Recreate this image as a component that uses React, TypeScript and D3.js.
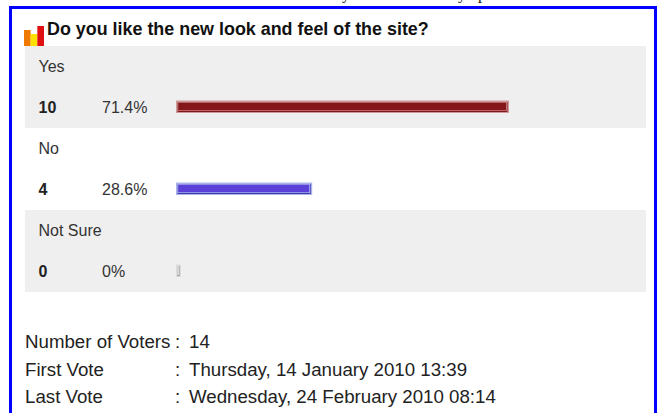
import { useEffect, useRef } from 'react';
import { scaleLinear, scaleBand, select } from 'd3';

const question = 'Do you like the new look and feel of the site?';
const answers = ['Yes', 'No', 'Not Sure'];
const votes = [10, 4, 0];
const percents = ['71.4%', '28.6%', '0%'];
const barEdges = ['#cf9a9b', '#a9b3ea', '#dcdcdc'];
const barFrames = ['#85171a', '#3a3fb0', '#8f8f8f'];
const barFills = ['#85171a', '#5a3fd8', '#ececec'];
const barHighlights = ['#c98a8c', '#b0b4ea', '#ececec'];
const infoLabels = ['Number of Voters', 'First Vote', 'Last Vote'];
const infoValues = ['14', 'Thursday, 14 January 2010 13:39', 'Wednesday, 24 February 2010 08:14'];
const iconHeights = [16, 12, 20];
const iconColors = ['#f07a00', '#ffe000', '#e01010'];
// bits of a line of text cut off by the top of the picture
const cutOffLetters = ['y', 'y', 'p'];
const cutOffX = [342, 458, 478];

const width = 659;
const height = 413;
const font = 'Arial, "Liberation Sans", sans-serif';

const App = () => {
  const ref = useRef<SVGSVGElement>(null);

  useEffect(() => {
    const svg = select(ref.current);
    svg.selectAll('*').remove();

    svg
      .selectAll('.cut')
      .data(cutOffLetters)
      .join('text')
      .attr('class', 'cut')
      .attr('x', (_, i) => cutOffX[i])
      .attr('y', -1)
      .attr('font-family', '"Liberation Serif", serif')
      .attr('font-size', 16)
      .attr('fill', '#111')
      .text((d) => d);

    // outer box
    svg
      .append('rect')
      .attr('x', 10.5)
      .attr('y', 7.5)
      .attr('width', 645)
      .attr('height', 420)
      .attr('fill', 'white')
      .attr('stroke', '#0000ff')
      .attr('stroke-width', 3);

    const rowY = scaleBand<string>().domain(answers).range([46, 292]);
    // a zero vote still draws a small stub, so 0 does not sit on the bar start
    const barStart = 176;
    const xScale = scaleLinear().domain([0, 10]).range([181, 509]);

    const rows = svg
      .selectAll('.row')
      .data(answers)
      .join('g')
      .attr('class', 'row')
      .attr('transform', (d) => `translate(0, ${rowY(d)})`);

    rows
      .append('rect')
      .attr('x', 25)
      .attr('y', 0)
      .attr('width', 621)
      .attr('height', rowY.bandwidth())
      .attr('fill', (_, i) => (i % 2 === 0 ? '#efefef' : 'white'));

    rows
      .append('text')
      .attr('x', 38.5)
      .attr('y', 26)
      .attr('font-family', font)
      .attr('font-size', 16)
      .attr('fill', '#333')
      .text((d) => d);

    rows
      .append('text')
      .attr('x', 38.5)
      .attr('y', 67)
      .attr('font-family', font)
      .attr('font-size', 16)
      .attr('font-weight', 700)
      .attr('fill', '#222')
      .text((_, i) => votes[i]);

    rows
      .append('text')
      .attr('x', 102)
      .attr('y', 67)
      .attr('font-family', font)
      .attr('font-size', 16)
      .attr('fill', '#333')
      .text((_, i) => percents[i]);

    const barW = (i: number) => xScale(votes[i]) - barStart;

    rows
      .append('rect')
      .attr('x', barStart)
      .attr('y', 54.5)
      .attr('width', (_, i) => barW(i))
      .attr('height', 12.5)
      .attr('fill', (_, i) => barEdges[i]);

    rows
      .append('rect')
      .attr('x', barStart + 1.5)
      .attr('y', 56)
      .attr('width', (_, i) => barW(i) - 3)
      .attr('height', 10)
      .attr('fill', (_, i) => barFrames[i]);

    rows
      .append('rect')
      .attr('x', barStart + 1.5)
      .attr('y', 56)
      .attr('width', (_, i) => barW(i) - 3.7)
      .attr('height', 9)
      .attr('fill', (_, i) => barHighlights[i]);

    rows
      .append('rect')
      .attr('x', barStart + 2.2)
      .attr('y', 56.7)
      .attr('width', (_, i) => barW(i) - 5.2)
      .attr('height', 7.6)
      .attr('fill', (_, i) => barFills[i]);

    // title icon
    const iconX = scaleBand<number>().domain([0, 1, 2]).range([24, 44]).padding(0);
    const iconY = scaleLinear().domain([0, 20]).range([46, 26]);
    svg
      .selectAll('.icon')
      .data(iconHeights)
      .join('rect')
      .attr('class', 'icon')
      .attr('x', (_, i) => iconX(i) as number)
      .attr('y', (d) => iconY(d))
      .attr('width', iconX.bandwidth())
      .attr('height', (d) => 46 - iconY(d))
      .attr('fill', (_, i) => iconColors[i]);

    svg
      .append('text')
      .attr('x', 47)
      .attr('y', 35)
      .attr('font-family', font)
      .attr('font-size', 17.9)
      .attr('font-weight', 700)
      .attr('fill', '#111')
      .text(question);

    const infoY = scaleBand<string>().domain(infoLabels).range([330, 412.5]);
    const info = svg
      .selectAll('.info')
      .data(infoLabels)
      .join('g')
      .attr('class', 'info')
      .attr('transform', (d) => `translate(0, ${(infoY(d) as number) + 18})`)
      .attr('font-family', font)
      .attr('font-size', 18.7)
      .attr('fill', '#222');

    info.append('text').attr('x', 25).text((d) => d);
    info.append('text').attr('x', 175).text(':');
    info.append('text').attr('x', 189).text((_, i) => infoValues[i]);
  }, []);

  return (
    <svg
      ref={ref}
      width={width}
      height={height}
      style={{ position: 'absolute', left: 0, top: 0 }}
    />
  );
};

export default App;
